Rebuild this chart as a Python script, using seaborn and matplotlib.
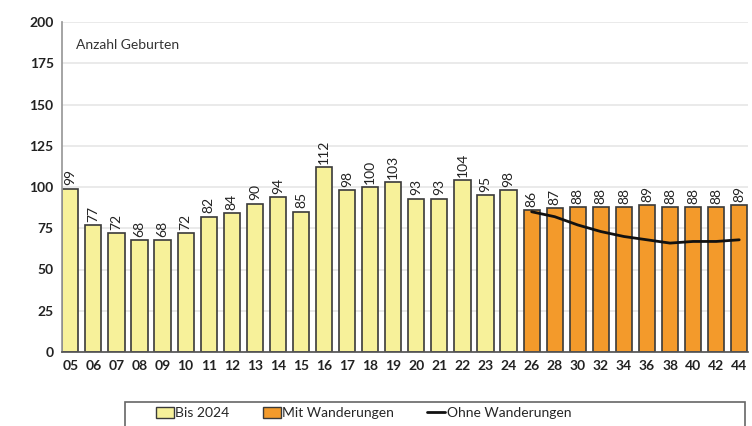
import numpy as np
import pandas as pd
import matplotlib
matplotlib.use("Agg")
import matplotlib.pyplot as plt
import seaborn as sns
from matplotlib.patches import Patch, Rectangle
from matplotlib.lines import Line2D

# Daten
jahre_hist = ["05", "06", "07", "08", "09", "10", "11", "12", "13", "14",
              "15", "16", "17", "18", "19", "20", "21", "22", "23", "24"]
geburten_hist = [99, 77, 72, 68, 68, 72, 82, 84, 90, 94,
                 85, 112, 98, 100, 103, 93, 93, 104, 95, 98]
jahre_proj = ["26", "28", "30", "32", "34", "36", "38", "40", "42", "44"]
mit_wanderungen = [86, 87, 88, 88, 88, 89, 88, 88, 88, 89]
ohne_wanderungen = [85, 82, 77, 73, 70, 68, 66, 67, 67, 68]

gelb = "#F7F19A"
orange = "#F39A2B"
kante = "#3a3a3a"

sns.set_theme(style="white")
plt.rcParams["font.family"] = ["Lato", "DejaVu Sans"]

df = pd.DataFrame({
    "jahr": jahre_hist + jahre_proj,
    "wert": geburten_hist + mit_wanderungen,
    "gruppe": ["Bis 2024"] * len(jahre_hist) + ["Mit Wanderungen"] * len(jahre_proj),
})

fig = plt.figure(figsize=(7.52, 4.26), dpi=100)
ax = fig.add_axes([62 / 752, 1 - 352 / 426, 686 / 752, 330 / 426])

sns.barplot(data=df, x="jahr", y="wert", hue="gruppe",
            palette={"Bis 2024": gelb, "Mit Wanderungen": orange},
            dodge=False, width=0.7, edgecolor=kante, linewidth=1.2,
            saturation=1, legend=False, ax=ax, zorder=2)

# Werte ueber den Balken
for i, v in enumerate(df["wert"]):
    ax.text(i, v + 2, str(v), rotation=90, ha="center", va="bottom",
            fontsize=10, color="#222222")

# Linie ohne Wanderungen
x_proj = np.arange(len(jahre_hist), len(jahre_hist) + len(jahre_proj))
ax.plot(x_proj, ohne_wanderungen, color="#111111", linewidth=2, zorder=3)

ax.set_ylim(0, 200)
ax.set_yticks(np.arange(0, 201, 25))
ax.set_xlim(-0.36, len(df) - 0.62)
ax.grid(axis="y", color="#e6e6e6", linewidth=1.2, zorder=0)
ax.set_axisbelow(True)
ax.set_xlabel("")
ax.set_ylabel("")
for s in ["top", "right"]:
    ax.spines[s].set_visible(False)
ax.spines["left"].set_color("#999999")
ax.spines["bottom"].set_color("#555555")
ax.tick_params(axis="both", length=0, pad=6)
for lab in ax.get_xticklabels() + ax.get_yticklabels():
    lab.set_fontweight("bold")
    lab.set_fontsize(10)
    lab.set_color("#222222")

ax.text(0.02, 0.93, "Anzahl Geburten", transform=ax.transAxes,
        fontsize=10, color="#333333", va="center")

# Legende mit Rahmen
fig.patches.append(Rectangle((125 / 752, -0.01), 620 / 752, 28 / 426,
                             transform=fig.transFigure, facecolor="white",
                             edgecolor="#666666", linewidth=1.2))
handles = [
    Patch(facecolor=gelb, edgecolor=kante, label="Bis 2024"),
    Patch(facecolor=orange, edgecolor=kante, label="Mit Wanderungen"),
    Line2D([0], [0], color="#111111", linewidth=2, label="Ohne Wanderungen"),
]
fig.legend(handles=handles, loc="center left", bbox_to_anchor=(143 / 752, 13 / 426),
           ncol=3, frameon=False, fontsize=10, handlelength=1.3, handleheight=0.8,
           handletextpad=0.1, columnspacing=2.4)

fig.savefig("out.png", dpi=100)
